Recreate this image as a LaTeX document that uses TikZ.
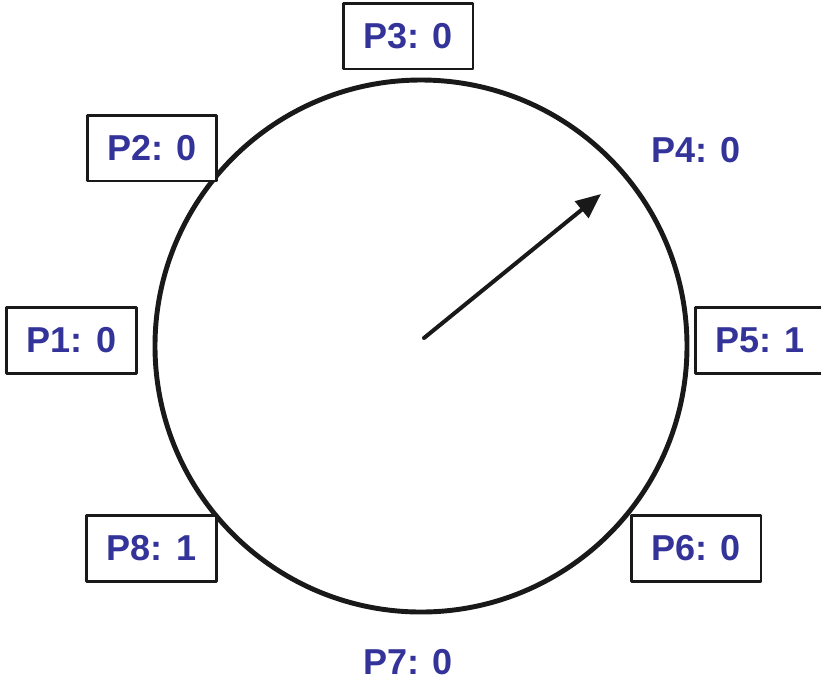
\documentclass[tikz,border=0pt]{standalone}
\usepackage{fontspec}
\setmainfont{Liberation Sans}
\usetikzlibrary{arrows.meta}
\definecolor{procblue}{RGB}{51,51,153}
\tikzset{
  proc/.style={draw=black!90, line width=1.7pt, fill=white, minimum width=2.6cm, minimum height=1.32cm, inner sep=0pt, text=procblue, font=\fontsize{20.5}{24}\selectfont\bfseries},
  freeproc/.style={proc, draw=none, fill=none}
}
\begin{document}
\begin{tikzpicture}[x=0.02cm, y=-0.02cm, line cap=round, line join=round]
	\useasboundingbox (0,0) rectangle (821,681);
	%Coordinates
	\coordinate (O) at (424,338);
	\coordinate (tip) at (601,194);

	%Ring
	\path[draw=black!90, line width=2.8pt] (421,346) circle (266);

	%Processes
	\node[proc] (p3) at (408,36) {P3: 0};
	\node[proc] (p2) at (152,148) {P2: 0};
	\node[freeproc] (p4) at (696,150) {P4: 0};
	\node[proc] (p1) at (71.5,340) {P1: 0};
	\node[proc] (p5) at (760,340) {P5: 1};
	\node[proc] (p8) at (151.5,548) {P8: 1};
	\node[proc] (p6) at (696,548) {P6: 0};
	\node[freeproc] (p7) at (408,662) {P7: 0};

	%Token
	\draw[line width=2.3pt, black!90, -{Triangle[length=0.5cm, width=0.42cm]}] (O) -- (tip);

\end{tikzpicture}
\end{document}
